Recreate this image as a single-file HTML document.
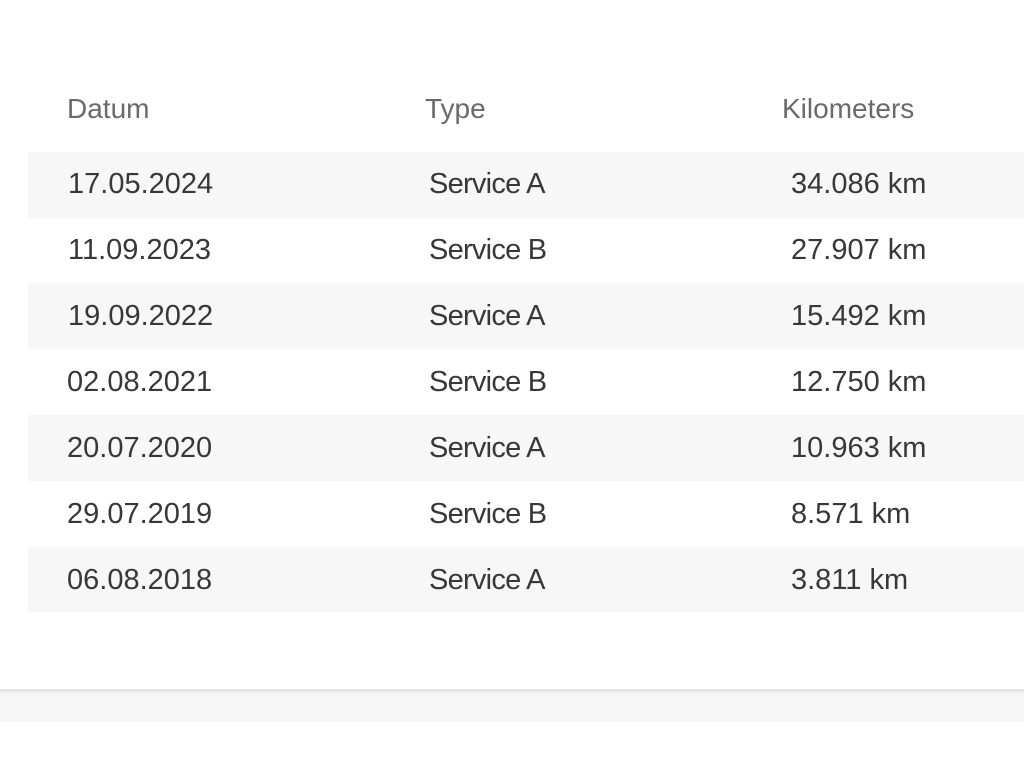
<!DOCTYPE html>
<html><head><meta charset="utf-8"><style>
html,body{margin:0;padding:0;width:1024px;height:768px;overflow:hidden;background:#fff;}
body{position:relative;font-family:"Liberation Sans",Arial,sans-serif;}
.row{position:absolute;left:28px;width:996px;height:66px;}
.sh{background:#f7f7f7;}
.t{position:absolute;white-space:nowrap;line-height:1;color:#383838;}
.h{color:#6a6a6a;font-size:28px;}
.d{font-size:29px;}
.s{font-size:29px;letter-spacing:-0.75px;}
.k{font-size:29px;}
</style></head><body>
<div class="t h" style="left:67px;top:95px;">Datum</div>
<div class="t h" style="left:425px;top:95px;">Type</div>
<div class="t h" style="left:782px;top:95px;">Kilometers</div>

<div class="row sh" style="top:152px;"></div>
<div class="row sh" style="top:283px;"></div>
<div class="row sh" style="top:415px;"></div>
<div class="row sh" style="top:547px;height:65px;"></div>

<div class="t d" style="left:68px;top:170px;">17.05.2024</div>
<div class="t s" style="left:429px;top:170px;">Service A</div>
<div class="t k" style="left:791px;top:170px;">34.086 km</div>

<div class="t d" style="left:68px;top:236px;">11.09.2023</div>
<div class="t s" style="left:429px;top:236px;">Service B</div>
<div class="t k" style="left:791px;top:236px;">27.907 km</div>

<div class="t d" style="left:68px;top:302px;">19.09.2022</div>
<div class="t s" style="left:429px;top:302px;">Service A</div>
<div class="t k" style="left:791px;top:302px;">15.492 km</div>

<div class="t d" style="left:67px;top:368px;">02.08.2021</div>
<div class="t s" style="left:429px;top:368px;">Service B</div>
<div class="t k" style="left:791px;top:368px;">12.750 km</div>

<div class="t d" style="left:67px;top:434px;">20.07.2020</div>
<div class="t s" style="left:429px;top:434px;">Service A</div>
<div class="t k" style="left:791px;top:434px;">10.963 km</div>

<div class="t d" style="left:67px;top:500px;">29.07.2019</div>
<div class="t s" style="left:429px;top:500px;">Service B</div>
<div class="t k" style="left:791px;top:500px;">8.571 km</div>

<div class="t d" style="left:67px;top:566px;">06.08.2018</div>
<div class="t s" style="left:429px;top:566px;">Service A</div>
<div class="t k" style="left:791px;top:566px;">3.811 km</div>

<div style="position:absolute;left:0;top:689px;width:1024px;height:2px;background:#e2e2e2;"></div>
<div style="position:absolute;left:0;top:691px;width:1024px;height:2px;background:#ededed;"></div>
<div style="position:absolute;left:0;top:693px;width:1024px;height:29px;background:#f6f6f6;"></div>
</body></html>
